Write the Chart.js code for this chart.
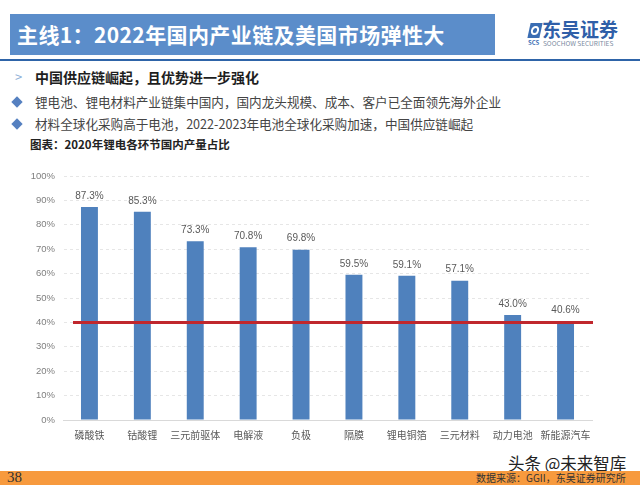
<!DOCTYPE html>
<html><head><meta charset="utf-8">
<script src="https://cdn.jsdelivr.net/npm/chart.js@4.4.1/dist/chart.umd.min.js"></script>
<style>
html,body{margin:0;padding:0;background:#fff;width:640px;height:485px;overflow:hidden;font-family:"Noto Sans CJK SC","Microsoft YaHei",sans-serif;}
#page{position:relative;width:640px;height:485px;}
.abs{position:absolute;white-space:nowrap;}
#titlebar{left:10px;top:14px;width:485px;height:41px;background:#5B8DCA;}
#title{left:17px;top:18px;color:#fff;font-size:21px;font-weight:bold;line-height:32px;letter-spacing:0.4px;}
#rule{left:0;top:59px;width:640px;height:2px;background:#2E64A8;}
#wrap{left:0;top:160px;width:640px;height:290px;}
#footer{left:0;top:471px;width:640px;height:14px;background:#F79A3E;}
</style></head>
<body><div id="page">
<div class="abs" id="titlebar"></div>
<div class="abs" id="title">主线1：2022年国内产业链及美国市场弹性大</div>
<!-- logo -->
<div class="abs" style="left:529px;top:23px;width:12px;height:15px;background:#3A6DB3;transform:skewX(-12deg);"></div>
<div class="abs" style="left:531px;top:26px;width:8px;height:9px;border:2px solid #fff;border-radius:50%;box-sizing:border-box;transform:skewX(-12deg);"></div>
<div class="abs" style="left:528px;top:39px;font-size:6px;font-weight:bold;color:#3A6DB3;line-height:7px;">SCS</div>
<div class="abs" style="left:542px;top:17px;font-size:19px;font-weight:bold;color:#2F5FA8;line-height:24px;">东吴证券</div>
<div class="abs" style="left:543px;top:40px;font-size:6.5px;color:#7a8aa0;line-height:7px;">SOOCHOW SECURITIES</div>
<div class="abs" id="rule"></div>

<div class="abs" style="left:15px;top:68px;font-size:13px;color:#8FB0D8;line-height:18px;">&gt;</div>
<div class="abs" style="left:35px;top:67px;font-size:14px;font-weight:bold;color:#1E1E1E;line-height:20px;">中国供应链崛起，且优势进一步强化</div>
<div class="abs" style="left:13px;top:98px;width:8px;height:8px;background:#5580C0;transform:rotate(45deg);"></div>
<div class="abs" style="left:35px;top:93px;font-size:12.6px;color:#444;line-height:18px;">锂电池、锂电材料产业链集中国内，国内龙头规模、成本、客户已全面领先海外企业</div>
<div class="abs" style="left:13px;top:120px;width:8px;height:8px;background:#5580C0;transform:rotate(45deg);"></div>
<div class="abs" style="left:35px;top:115px;font-size:12.6px;color:#444;line-height:18px;">材料全球化采购高于电池，2022-2023年电池全球化采购加速，中国供应链崛起</div>
<div class="abs" style="left:30px;top:136px;font-size:11.5px;font-weight:bold;color:#222;line-height:16px;">图表：2020年锂电各环节国内产量占比</div>

<div class="abs" id="wrap"><canvas id="c" width="640" height="290"></canvas></div>

<div class="abs" style="left:508px;top:453px;font-size:16.5px;color:#222;line-height:20px;text-shadow:0 0 2px #fff,0 0 2px #fff;">头条 @未来智库</div>
<div class="abs" id="footer"></div>
<div class="abs" style="left:7px;top:468px;font-family:'Liberation Serif','Times New Roman',serif;font-size:15px;color:#333;line-height:18px;">38</div>
<div class="abs" style="left:476px;top:471px;font-size:10px;color:#333;line-height:14px;">数据来源：GGII，东吴证券研究所</div>
</div>
<script>
const categories = ["磷酸铁","钴酸锂","三元前驱体","电解液","负极","隔膜","锂电铜箔","三元材料","动力电池","新能源汽车"];
const shares = [87.3,85.3,73.3,70.8,69.8,59.5,59.1,57.1,43.0,40.6];
const yTicks = [0,10,20,30,40,50,60,70,80,90,100];
const referenceLevel = 40;

const labelPlugin = {
  id:'valueLabels',
  afterDatasetsDraw(chart){
    const ctx = chart.ctx;
    const meta = chart.getDatasetMeta(0);
    ctx.save();
    ctx.font = '10px "Liberation Sans", Arial, sans-serif';
    ctx.fillStyle = '#595959';
    ctx.textAlign = 'center';
    ctx.textBaseline = 'bottom';
    meta.data.forEach((bar,i)=>{
      ctx.fillText(shares[i].toFixed(1)+'%', bar.x, bar.y-6);
    });
    ctx.restore();
  }
};
const refLinePlugin = {
  id:'refLine',
  afterDatasetsDraw(chart){
    const ctx = chart.ctx, y = chart.scales.y.getPixelForValue(referenceLevel);
    const a = chart.chartArea;
    ctx.save();
    ctx.strokeStyle = '#C0272D';
    ctx.lineWidth = 3;
    ctx.beginPath();
    ctx.moveTo(a.left+10, y);
    ctx.lineTo(a.right+1, y);
    ctx.stroke();
    ctx.restore();
  }
};

new Chart(document.getElementById('c'), {
  type:'bar',
  data:{labels:categories, datasets:[{data:shares, backgroundColor:'#4F81BD', barPercentage:0.32, categoryPercentage:1}]},
  options:{
    responsive:false, animation:false,
    layout:{padding:{top:16,right:48,left:0,bottom:0}},
    plugins:{legend:{display:false}, tooltip:{enabled:false}},
    scales:{
      x:{
        grid:{display:false, drawTicks:false},
        border:{display:true, color:'#D9D9D9'},
        ticks:{color:'#595959', font:{size:10, family:'"Noto Sans CJK SC", sans-serif'}, padding:9, maxRotation:0, autoSkip:false},
        afterFit(s){ s.height = 30; }
      },
      y:{
        min:0, max:100,
        afterBuildTicks(s){ s.ticks = yTicks.map(v=>({value:v})); },
        grid:{color:(c)=> c.tick && c.tick.value===0 ? '#D9D9D9' : '#E6E6E6', drawTicks:false, lineWidth:1},
        border:{display:true, color:'rgba(0,0,0,0)', dash:[3,3]},
        ticks:{color:'#7F7F7F', font:{size:9.5, family:'"Liberation Sans", Arial, sans-serif'}, padding:8, callback:v=>v+'%'},
        afterFit(s){ s.width = 63; }
      }
    }
  },
  plugins:[labelPlugin, refLinePlugin]
});
</script>
</body></html>
